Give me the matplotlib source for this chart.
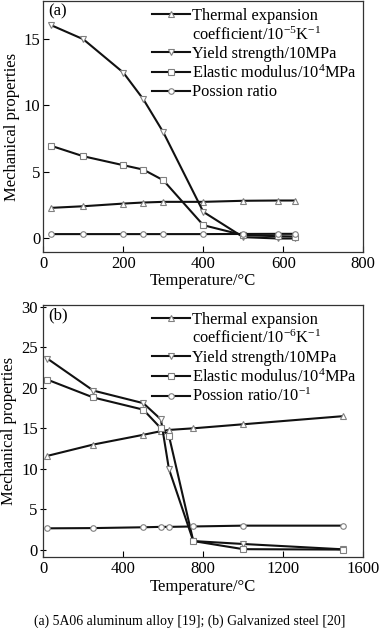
import matplotlib
matplotlib.use('Agg')
import matplotlib.pyplot as plt
from matplotlib.lines import Line2D

plt.rcParams['font.family'] = ['Liberation Serif', 'DejaVu Serif']
plt.rcParams['mathtext.fontset'] = 'custom'
plt.rcParams['mathtext.rm'] = 'Liberation Serif'
plt.rcParams['mathtext.default'] = 'regular'

# (a) 5A06 aluminum alloy
temp_a = [20, 100, 200, 250, 300, 400, 500, 588, 630]
thermal_a = [2.3, 2.42, 2.62, 2.7, 2.75, 2.75, 2.83, 2.85, 2.85]
yield_a = [16.0, 14.95, 12.45, 10.45, 7.97, 2.0, 0.1, 0.0, 0.0]
elastic_a = [6.95, 6.17, 5.5, 5.17, 4.37, 1.0, 0.25, 0.17, 0.15]
poisson_a = [0.33, 0.33, 0.33, 0.33, 0.33, 0.33, 0.34, 0.35, 0.35]

# (b) galvanized steel
temp_b = [20, 250, 500, 588, 628, 750, 1000, 1500]
thermal_b = [11.6, 13.0, 14.2, 14.65, 14.8, 15.0, 15.5, 16.5]
yield_b = [23.6, 19.65, 18.1, 16.1, 10.0, 1.1, 0.74, 0.08]
elastic_b = [21.0, 18.8, 17.3, 15.0, 14.1, 1.1, 0.1, 0.05]
poisson_b = [2.67, 2.7, 2.8, 2.85, 2.85, 2.9, 3.0, 3.0]

labels_a = ['Thermal expansion', 'coefficient/10$^{-5}$K$^{-1}$',
            'Yield strength/10MPa', 'Elastic modulus/10$^{4}$MPa',
            'Possion ratio']
labels_b = ['Thermal expansion', 'coefficient/10$^{-6}$K$^{-1}$',
            'Yield strength/10MPa', 'Elastic modulus/10$^{4}$MPa',
            'Possion ratio/10$^{-1}$']

line_kw = dict(color='#111111', lw=1.5, ms=4.0, mfc='white', mec='#808080', mew=0.8)
markers = ['^', 'v', 's', 'o']


def draw_panel(ax, temp, series, labels, tag, xlim, ylim, xticks, yticks, ydir):
    handles = []
    for ys, m in zip(series, markers):
        h, = ax.plot(temp, ys, marker=m, **line_kw)
        handles.append(h)
    # empty handle so the second line of the first label sits on its own row
    blank = Line2D([], [], linestyle='none', marker='none')
    ax.legend([handles[0], blank, handles[1], handles[2], handles[3]], labels,
              loc='upper right', frameon=False, fontsize=11.8,
              handlelength=2.3, handletextpad=0.12, labelspacing=0.15,
              borderaxespad=0.1, borderpad=0.3)
    ax.set_xlim(*xlim)
    ax.set_ylim(*ylim)
    ax.set_xticks(xticks)
    ax.set_yticks(yticks)
    ax.tick_params(axis='x', direction='in', length=4, width=0.8, labelsize=12, pad=3)
    ax.tick_params(axis='y', direction=ydir, length=4, width=0.8, labelsize=12, pad=2)
    for s in ax.spines.values():
        s.set_linewidth(0.9)
        s.set_color('#333333')
    ax.set_xlabel('Temperature/°C', fontsize=12, labelpad=1)
    ax.set_ylabel('Mechanical properties', fontsize=12, labelpad=3)
    ax.text(0.015, 0.99, tag, transform=ax.transAxes, ha='left', va='top', fontsize=12)


fig = plt.figure(figsize=(3.8, 6.28), dpi=100)
ax_a = fig.add_axes([0.114, 0.599, 0.842, 0.399])
ax_b = fig.add_axes([0.114, 0.1126, 0.842, 0.4017])

draw_panel(ax_a, temp_a, [thermal_a, yield_a, elastic_a, poisson_a], labels_a, '(a)',
           (0, 800), (-1, 17.8), [0, 200, 400, 600, 800], [0, 5, 10, 15], 'in')
draw_panel(ax_b, temp_b, [thermal_b, yield_b, elastic_b, poisson_b], labels_b, '(b)',
           (0, 1600), (-0.9, 30.2), [0, 400, 800, 1200, 1600], [0, 5, 10, 15, 20, 25, 30], 'inout')

fig.text(0.5, 1 - 621.7 / 628, '(a) 5A06 aluminum alloy [19]; (b) Galvanized steel [20]',
         ha='center', va='center', fontsize=9.9)

fig.savefig('out.png', dpi=100)
